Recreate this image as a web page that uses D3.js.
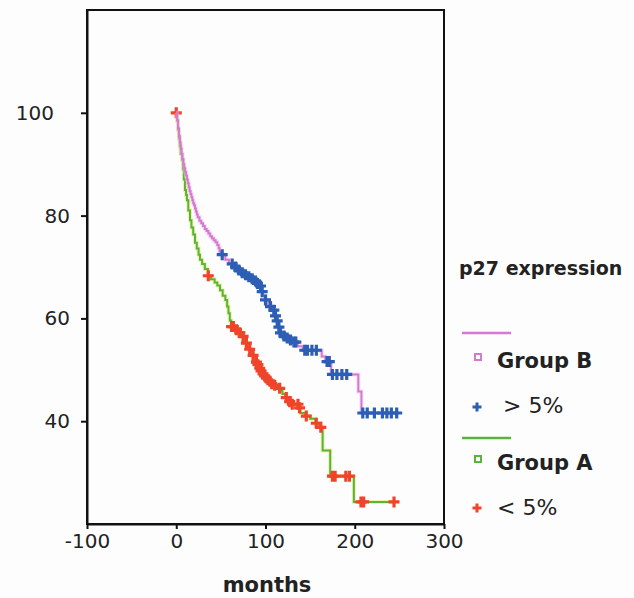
<!DOCTYPE html>
<html>
<head>
<meta charset="utf-8">
<script src="https://cdn.jsdelivr.net/npm/d3@7"></script>
<style>
  body { margin: 0; background: #fff; }
  text { font-family: "DejaVu Sans", sans-serif; fill: #222; }
</style>
</head>
<body>
<div id="chart"></div>
<script>
// Kaplan-Meier steps [months, survival %]
const groupBSteps = [
  [0, 100], [1, 98.5], [2, 97], [3, 95.5], [4, 94.2], [5, 93], [6, 92], [7, 91], [8, 90],
  [9, 89.2], [10, 88.5], [11, 87.8], [12, 87], [13, 86.3], [14, 85.5], [15, 84.8], [16, 84.2],
  [17, 83.6], [18, 83], [19, 82.4], [20, 82], [21, 81.4], [22, 80.8], [23, 80.2], [24, 79.7],
  [26, 79], [28, 78.5], [30, 78], [32, 77.4], [34, 77], [36, 76.5], [38, 76], [40, 75.6],
  [42, 75.2], [44, 74.8], [46, 74.3], [47.5, 73.7], [48.5, 73], [49.5, 72.4], [55, 71.4],
  [59, 70.6], [65, 70], [68, 69.4], [72, 68.9], [76, 68.5], [80, 68.1], [84, 67.7], [88, 67.3],
  [91, 66.8], [93, 66.3], [95.5, 65.2], [97, 64.4], [100, 63.6], [103, 62.8], [105, 62.3],
  [108, 61.6], [110, 60.5], [112, 59.5], [114, 58.3], [116, 57.2], [119, 56.6], [123, 56.2],
  [127, 55.8], [131, 55.4], [136, 54.6], [142, 53.8], [163, 52.6], [167, 51.6], [173.5, 49.1],
  [204, 45.8], [207.5, 41.6]
];
const groupBCensored = [
  51.5, 62.7, 66.4, 70.1, 73.9, 77.6, 81.3, 85.1, 88.8, 91, 94.4, 96.3, 100, 105.6, 109.3,
  111.2, 113.1, 115, 116.8, 120.6, 124.3, 128, 131.8, 134, 144, 147, 152, 157, 169, 171.5,
  175, 180, 185.6, 191, 209, 214, 222, 231, 236, 241, 247
];

const groupASteps = [
  [0, 100], [1, 98.5], [2, 96.7], [3, 95], [4, 93.5], [5, 92], [6.4, 90.8], [7.5, 89], [8.5, 87],
  [9.8, 85], [11, 84], [12, 83], [13.5, 81], [15.4, 79.1], [17, 77.7], [19, 76.3], [21, 74.7],
  [23, 73.6], [25, 72.4], [26.6, 71.4], [29, 70.6], [32, 69.6], [35.5, 68.3], [39, 67.6],
  [43, 67], [46, 66.4], [49, 65.5], [52, 64.4], [55, 63.6], [57, 62.3], [58.5, 61], [60, 59.6],
  [61.5, 58.4], [66, 57.8], [70, 57.2], [73, 56.5], [75, 56], [77, 55.2], [79, 54.6], [81, 54],
  [83, 53.5], [85, 52.8], [87, 52.2], [89, 51.5], [91, 51], [93, 50.3], [95, 49.8], [97, 49.2],
  [99, 48.8], [101, 48.4], [104, 47.8], [107, 47.3], [110, 47], [113, 46.4], [116, 46],
  [119, 45.3], [122, 44.6], [125, 43.8], [130, 43.3], [137, 42.6], [139, 41.6], [144, 41],
  [150, 40.5], [156, 39.6], [160, 38.8], [164, 34.3], [172.5, 29.3], [199, 24.3]
];
const groupACensored = [
  0, 35.9, 62, 64, 67.5, 71.2, 74.9, 78.6, 82.3, 86.1, 89.8, 91.5, 93.5, 95, 97.2, 99, 101,
  104.7, 107, 110.3, 115.9, 123.3, 127.1, 130, 136.4, 138.2, 145.7, 156.9, 162, 175, 178,
  190, 194, 207, 210, 244
];

const xTicks = [-100, 0, 100, 200, 300];
const yTicks = [40, 60, 80, 100];

const width = 634, height = 598;
const plot = { left: 87, right: 444, top: 10, bottom: 524 };

const svg = d3.select('#chart').append('svg')
  .attr('width', width)
  .attr('height', height);

svg.append('rect').attr('width', width).attr('height', height).attr('fill', '#fdfdfe');

const x = d3.scaleLinear().domain([-100, 300]).range([plot.left, plot.right]);
const y = d3.scaleLinear().domain([20, 120]).range([plot.bottom, plot.top]);

// frame
svg.append('rect')
  .attr('x', plot.left).attr('y', plot.top)
  .attr('width', plot.right - plot.left).attr('height', plot.bottom - plot.top)
  .attr('fill', 'none').attr('stroke', '#111').attr('stroke-width', 2);

// axes (plain hyphen for negatives, like the original)
const xAxis = svg.append('g')
  .attr('transform', `translate(0,${plot.bottom})`)
  .call(d3.axisBottom(x).tickValues(xTicks).tickFormat(d => String(d))
    .tickSize(5).tickPadding(5).tickSizeOuter(0));
xAxis.select('.domain').attr('stroke', '#111').attr('stroke-width', 2);
xAxis.selectAll('.tick line').attr('stroke', '#111').attr('stroke-width', 2);
xAxis.selectAll('.tick text')
  .attr('font-size', 20).attr('fill', '#222')
  .style('font-family', '"DejaVu Sans", sans-serif');

const yAxis = svg.append('g')
  .attr('transform', `translate(${plot.left},0)`)
  .call(d3.axisLeft(y).tickValues(yTicks).tickSize(6).tickPadding(11).tickSizeOuter(0));
yAxis.select('.domain').attr('stroke', '#111').attr('stroke-width', 2);
yAxis.selectAll('.tick line').attr('stroke', '#111').attr('stroke-width', 2);
yAxis.selectAll('.tick text')
  .attr('font-size', 20).attr('fill', '#222')
  .attr('dx', d => d === 100 ? -16 : 0)
  .style('font-family', '"DejaVu Sans", sans-serif');

svg.append('text')
  .attr('x', 267).attr('y', 592)
  .attr('text-anchor', 'middle')
  .attr('font-size', 21).attr('font-weight', 'bold')
  .text('months');

// survival at time t from a step table
function survAt(steps, t) {
  const i = d3.bisector(d => d[0]).right(steps, t) - 1;
  return steps[Math.max(i, 0)][1];
}

const line = d3.line()
  .x(d => x(d[0]))
  .y(d => y(d[1]))
  .curve(d3.curveStepAfter);

function drawGroup(steps, censored, lineColor, haloColor, markColor) {
  const end = d3.max(censored);
  const pts = steps.concat([[end, steps[steps.length - 1][1]]]);
  svg.append('path').datum(pts)
    .attr('d', line).attr('fill', 'none')
    .attr('stroke', haloColor).attr('stroke-width', 4).attr('opacity', 0.5);
  svg.append('path').datum(pts)
    .attr('d', line).attr('fill', 'none')
    .attr('stroke', lineColor).attr('stroke-width', 2);

  svg.append('g').selectAll('path')
    .data(censored)
    .join('path')
    .attr('transform', d => `translate(${x(d)},${y(survAt(steps, d))})`)
    .attr('d', 'M-5.5,0H5.5M0,-5.5V5.5')
    .attr('stroke', markColor)
    .attr('stroke-width', 3.2);
}

drawGroup(groupASteps, groupACensored, '#58b43a', '#e4e85a', '#f0442a');
drawGroup(groupBSteps, groupBCensored, '#d47ad0', '#f0c4ee', '#2c5fb4');

// legend
const lg = svg.append('g');
lg.append('text').attr('x', 459).attr('y', 275)
  .attr('font-size', 19).attr('font-weight', 'bold').text('p27 expression');

lg.append('line').attr('x1', 462).attr('x2', 511).attr('y1', 333).attr('y2', 333)
  .attr('stroke', '#d47ad0').attr('stroke-width', 2.5);
lg.append('rect').attr('x', 475).attr('y', 354).attr('width', 6).attr('height', 6)
  .attr('fill', 'none').attr('stroke', '#d47ad0').attr('stroke-width', 2);
lg.append('text').attr('x', 497).attr('y', 368)
  .attr('font-size', 21).attr('font-weight', 'bold').text('Group B');
lg.append('path').attr('transform', 'translate(477,407)')
  .attr('d', 'M-4.5,0H4.5M0,-4.5V4.5').attr('stroke', '#2c5fb4').attr('stroke-width', 3);
lg.append('text').attr('x', 503).attr('y', 413)
  .attr('font-size', 22).text('> 5%');

lg.append('line').attr('x1', 462).attr('x2', 511).attr('y1', 438).attr('y2', 438)
  .attr('stroke', '#58b43a').attr('stroke-width', 2.5);
lg.append('rect').attr('x', 475).attr('y', 456).attr('width', 6).attr('height', 6)
  .attr('fill', 'none').attr('stroke', '#58b43a').attr('stroke-width', 2);
lg.append('text').attr('x', 497).attr('y', 470)
  .attr('font-size', 21).attr('font-weight', 'bold').text('Group A');
lg.append('path').attr('transform', 'translate(477,508)')
  .attr('d', 'M-4.5,0H4.5M0,-4.5V4.5').attr('stroke', '#f0442a').attr('stroke-width', 3);
lg.append('text').attr('x', 497).attr('y', 515)
  .attr('font-size', 22).text('< 5%');
</script>
</body>
</html>
